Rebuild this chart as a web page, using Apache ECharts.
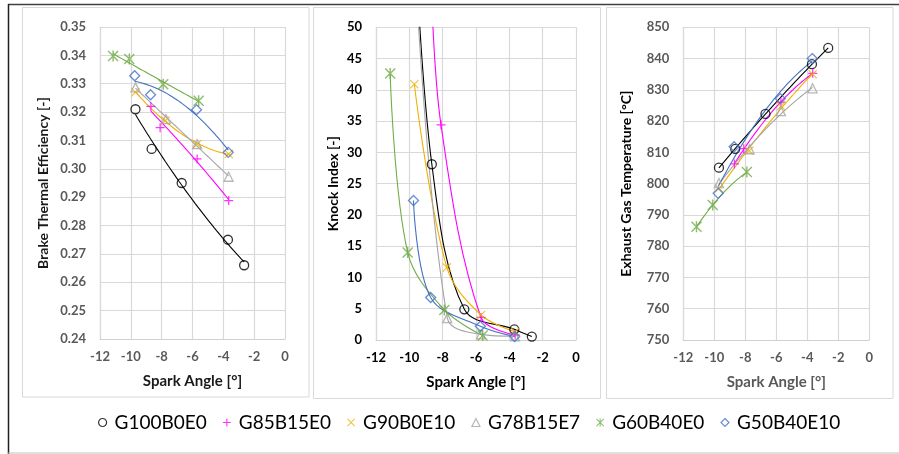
<!DOCTYPE html>
<html><head><meta charset="utf-8">
<script src="https://cdn.jsdelivr.net/npm/echarts@6/dist/echarts.min.js"></script>
<style>html,body{margin:0;padding:0;background:#fff}#c{width:899px;height:454px}</style>
</head><body><div id="c"></div>
<script>
// ---- data ----
const seriesNames = ['G100B0E0','G85B15E0','G90B0E10','G78B15E7','G60B40E0','G50B40E10'];
const xTicks = [-12,-10,-8,-6,-4,-2,0];

const spark_G100 = [-9.7, -8.65, -6.7, -3.7, -2.65];
const bte_G100   = [0.321, 0.307, 0.295, 0.275, 0.266];
const knock_G100 = [66, 28.1, 4.9, 1.7, 0.55];
const egt_G100   = [805.1, 811.1, 822.3, 838.2, 843.4];

const spark_G85 = [-8.7, -8.1, -5.7, -3.65];
const bte_G85   = [0.322, 0.3145, 0.3035, 0.2888];
const knock_G85 = [58, 34.4, 3.6, 0.8];
const egt_G85   = [806.3, 811.2, 826.1, 835.3];

const spark_G90 = [-9.7, -7.75, -5.7, -3.65];
const bte_G90   = [0.327, 0.317, 0.3087, 0.3052];
const knock_G90 = [40.9, 11.6, 4.0, 1.3];
const egt_G90   = [798.5, 810.5, 824.8, 835.0];

const spark_G78 = [-9.7, -7.72, -5.7, -3.66];
const bte_G78   = [0.3287, 0.3175, 0.3087, 0.2972];
const knock_G78 = [62, 3.5, 0.9, 0.6];
const egt_G78   = [800.2, 811.0, 823.2, 830.5];

const spark_G60 = [-11.15, -10.1, -7.9, -5.6];
const bte_G60   = [0.3398, 0.3387, 0.3298, 0.324];
const knock_G60 = [42.6, 14.0, 4.8, 0.7];
const egt_G60   = [786.2, 793.2, 803.7, null];

const spark_G50 = [-9.75, -8.72, -5.74, -3.68];
const bte_G50   = [0.3328, 0.3261, 0.3208, 0.3058];
const knock_G50 = [22.3, 6.8, 2.2, 0.55];
const egt_G50   = [796.9, 811.8, 827.2, 840.0];

// ---- styling ----
const FONT = 'Lato, "Noto Sans", sans-serif';
const colors = ['#000000', '#ff00ff', '#f0b000', '#a5a5a5', '#70ad47', '#4472c4'];
const P_PLUS = 'path://M4.3,0H5.7V10H4.3Z M0,4.3H10V5.7H0Z';
const P_X = 'path://M0.9,0L10,9.1L9.1,10L0,0.9Z M9.1,0L10,0.9L0.9,10L0,9.1Z';
const P_STAR = 'path://M0.9,0L10,9.1L9.1,10L0,0.9Z M9.1,0L10,0.9L0.9,10L0,9.1Z M4.35,0H5.65V10H4.35Z';
const symbols = [
  {symbol:'circle', size:9, hollow:true},
  {symbol:P_PLUS, size:9, hollow:false},
  {symbol:P_X, size:9, hollow:false},
  {symbol:'triangle', size:9, hollow:true},
  {symbol:P_STAR, size:11, hollow:false},
  {symbol:'diamond', size:10, hollow:true}
];

const sparks = [spark_G100, spark_G85, spark_G90, spark_G78, spark_G60, spark_G50];
const btes = [bte_G100, bte_G85, bte_G90, bte_G78, bte_G60, bte_G50];
const knocks = [knock_G100, knock_G85, knock_G90, knock_G78, knock_G60, knock_G50];
const egts = [egt_G100, egt_G85, egt_G90, egt_G78, egt_G60, egt_G50];

function pairs(xs, ys){ return xs.map((x,i)=>[x, ys[i]]).filter(p=>p[1]!=null); }

// least-squares quadratic trendline (as Excel polynomial trendline)
function quadTrend(pts){
  let S=[0,0,0,0,0], T=[0,0,0];
  pts.forEach(([x,y])=>{ let p=1; for(let k=0;k<5;k++){S[k]+=p; if(k<3)T[k]+=p*y; p*=x;} });
  const A=[[S[0],S[1],S[2],T[0]],[S[1],S[2],S[3],T[1]],[S[2],S[3],S[4],T[2]]];
  for(let i=0;i<3;i++){
    let m=i; for(let r=i+1;r<3;r++) if(Math.abs(A[r][i])>Math.abs(A[m][i])) m=r;
    [A[i],A[m]]=[A[m],A[i]];
    for(let r=0;r<3;r++){ if(r===i) continue; const f=A[r][i]/A[i][i]; for(let c=i;c<4;c++) A[r][c]-=f*A[i][c]; }
  }
  const c=[A[0][3]/A[0][0], A[1][3]/A[1][1], A[2][3]/A[2][2]];
  const xs=pts.map(p=>p[0]); const x0=Math.min(...xs), x1=Math.max(...xs);
  const out=[]; const N=40;
  for(let i=0;i<=N;i++){ const x=x0+(x1-x0)*i/N; out.push([x, c[0]+c[1]*x+c[2]*x*x]); }
  return out;
}

const panels = [
  {grid:{left:100, top:27, width:185, height:312}, ymin:0.24, ymax:0.35, yint:0.01, fmt:v=>v.toFixed(2),
   yname:'Brake Thermal Efficiency [-]', ynameGap:50, tickColor:'#595959', xnameColor:'#1a1a1a', ynameColor:'#1a1a1a', values:btes, mode:'trend'},
  {grid:{left:376, top:27.3, width:200, height:312.7}, ymin:0, ymax:50, yint:5, fmt:v=>String(v),
   yname:'Knock Index [-]', ynameGap:36, tickColor:'#000000', xnameColor:'#000000', ynameColor:'#000000', values:knocks, mode:'smooth'},
  {grid:{left:683.3, top:27.3, width:186, height:312.7}, ymin:750, ymax:850, yint:10, fmt:v=>String(v),
   yname:'Exhaust Gas Temperature [°C]', ynameGap:50, tickColor:'#595959', xnameColor:'#595959', ynameColor:'#000000', values:egts, mode:'trend'}
];

const grids=[], xAxes=[], yAxes=[], series=[];
panels.forEach((p, gi)=>{
  grids.push(p.grid);
  xAxes.push({gridIndex:gi, type:'value', min:-12, max:0, interval:2,
    name:'Spark Angle [°]', nameLocation:'middle', nameGap:35,
    nameTextStyle:{fontFamily:FONT, fontWeight:'bold', fontSize:15, color:p.xnameColor},
    axisLine:{show:true, onZero:false, lineStyle:{color:'#d0d0d0', width:1}},
    axisTick:{show:false},
    splitLine:{show:true, lineStyle:{color:'#d9d9d9', width:1.2}},
    axisLabel:{margin:11, fontFamily:FONT, fontWeight:'bold', fontSize:13, color:p.tickColor,
      formatter:v=> xTicks.includes(v) ? String(v) : ''}});
  yAxes.push({gridIndex:gi, type:'value', min:p.ymin, max:p.ymax, interval:p.yint,
    name:p.yname, nameLocation:'middle', nameGap:p.ynameGap, nameRotate:90,
    nameTextStyle:{fontFamily:FONT, fontWeight:'bold', fontSize:14, color:p.ynameColor},
    axisLine:{show:true, onZero:false, lineStyle:{color:'#d9d9d9', width:1.2}},
    axisTick:{show:false},
    splitLine:{show:true, lineStyle:{color:'#d9d9d9', width:1.2}},
    axisLabel:{margin:14, fontFamily:FONT, fontWeight:'bold', fontSize:13, color:p.tickColor, formatter:p.fmt}});
  seriesNames.forEach((name, si)=>{
    const pts = pairs(sparks[si], p.values[si]);
    const sym = symbols[si];
    series.push({type:'scatter', name, xAxisIndex:gi, yAxisIndex:gi, data:pts.filter(q=>q[1]<=p.ymax),
      symbol:sym.symbol, symbolSize:sym.size, z:5, silent:true,
      itemStyle: sym.hollow ? {color:'rgba(255,255,255,0)', borderColor:colors[si], borderWidth:1.3}
                            : {color:colors[si]}});
    const lineData = p.mode==='trend' ? quadTrend(pts) : pts;
    series.push({type:'line', name, xAxisIndex:gi, yAxisIndex:gi, data:lineData,
      smooth: p.mode==='smooth' ? 0.35 : false, symbol:'none', showSymbol:false, z:3, silent:true, clip:true,
      lineStyle:{color:colors[si], width:1.1}, itemStyle:{color:colors[si]}});
  });
});

const legendData = seriesNames.map((n, si)=>{
  const s = symbols[si];
  return {name:n, icon:s.symbol,
    itemStyle: s.hollow ? {color:'rgba(255,255,255,0)', borderColor:colors[si], borderWidth:1.2}
                        : {color:colors[si], borderWidth:0}};
});

const chart = echarts.init(document.getElementById('c'), null, {renderer:'canvas'});
chart.setOption({
  backgroundColor:'#ffffff',
  animation:false,
  grid:grids, xAxis:xAxes, yAxis:yAxes, series,
  legend:{show:true, data:legendData, orient:'horizontal', left:93, top:408,
    itemWidth:8, itemHeight:8, itemGap:16, selectedMode:false,
    textStyle:{fontFamily:FONT, fontSize:19, color:'#000000', padding:[0,0,0,3]}},
  graphic:[
    {type:'rect', shape:{x:22.5, y:7.5, width:286.5, height:389.5}, style:{fill:null, stroke:'#d9d9d9', lineWidth:1}, silent:true},
    {type:'rect', shape:{x:313.5, y:7.5, width:287, height:391}, style:{fill:null, stroke:'#d9d9d9', lineWidth:1}, silent:true},
    {type:'rect', shape:{x:606.5, y:7.5, width:286.5, height:391}, style:{fill:null, stroke:'#d9d9d9', lineWidth:1}, silent:true},
    {type:'line', shape:{x1:8, y1:4.5, x2:899, y2:4.5}, style:{stroke:'#404040', lineWidth:1.5}, silent:true},
    {type:'line', shape:{x1:8.5, y1:4, x2:8.5, y2:454}, style:{stroke:'#202020', lineWidth:1.5}, silent:true},
    {type:'line', shape:{x1:8, y1:453, x2:899, y2:453}, style:{stroke:'#c0c0c0', lineWidth:1}, silent:true}
  ]
});
</script>
</body></html>
